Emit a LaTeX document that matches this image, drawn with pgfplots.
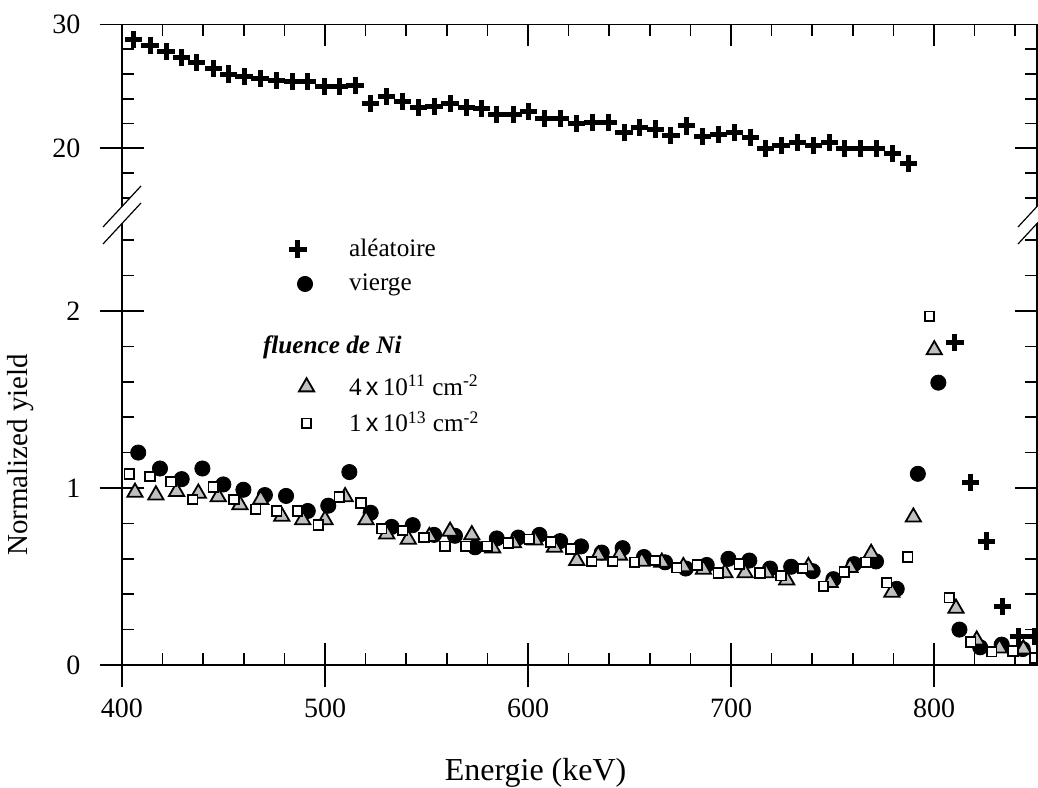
\documentclass[border=0pt]{standalone}
\usepackage{pgfplots}
\pgfplotsset{compat=1.18}
\usepackage{pgfplotstable}
\usepackage{fontspec}
\setmainfont{Liberation Serif}
\setsansfont{Liberation Sans}

% random (aleatoire) spectrum, upper panel
\pgfplotstableread{
E Y
405.6 28.8
413.8 28.3
421.7 27.8
429.4 27.35
436.8 26.9
445.0 26.45
452.4 26.0
460.1 25.8
468.0 25.65
476.2 25.5
483.9 25.4
491.5 25.4
499.5 25.0
507.0 25.0
514.8 25.1
522.5 23.6
530.4 24.2
538.3 23.8
546.0 23.3
553.7 23.4
561.6 23.6
569.5 23.3
577.2 23.2
584.6 22.7
592.8 22.7
600.2 22.95
607.9 22.4
615.8 22.4
624.0 22.0
631.6 22.1
639.6 22.1
647.3 21.3
654.8 21.65
662.6 21.55
670.4 21.0
678.2 21.8
685.9 20.95
693.8 21.1
701.5 21.3
709.4 20.9
717.1 19.95
724.6 20.2
732.7 20.45
740.6 20.25
748.3 20.45
755.8 20.0
763.9 20.0
771.8 19.95
779.5 19.55
787.4 18.75
}\aleahigh

% random spectrum, tail in lower panel
\pgfplotstableread{
E Y
810.3 1.82
818.0 1.03
826.0 0.70
833.6 0.33
841.5 0.16
849.3 0.16
}\alealow

% virgin
\pgfplotstableread{
E Y
408.0 1.20
418.7 1.11
429.4 1.05
439.6 1.11
449.9 1.02
459.8 0.99
470.4 0.96
480.8 0.955
491.5 0.87
501.6 0.90
512.0 1.09
522.5 0.86
532.8 0.78
543.2 0.79
553.7 0.735
564.0 0.73
573.9 0.665
584.6 0.715
595.2 0.72
605.6 0.735
615.8 0.70
626.1 0.67
636.3 0.635
646.6 0.66
657.1 0.61
667.5 0.58
677.7 0.545
688.0 0.565
698.7 0.60
709.0 0.59
719.2 0.545
729.6 0.555
740.2 0.53
750.4 0.485
760.6 0.57
771.4 0.585
781.6 0.43
792.0 1.08
802.1 1.595
812.5 0.20
822.7 0.10
833.3 0.115
843.7 0.09
}\vierge

% 4e11 cm-2
\pgfplotstableread{
E Y
406.4 0.975
416.7 0.96
426.9 0.98
437.6 0.97
447.4 0.95
458.1 0.905
468.3 0.935
478.7 0.84
489.0 0.82
500.0 0.82
509.9 0.95
520.2 0.82
530.4 0.74
541.0 0.71
551.4 0.725
561.6 0.755
572.3 0.735
582.6 0.66
592.8 0.69
603.4 0.705
613.0 0.665
624.0 0.59
634.6 0.62
645.0 0.62
656.0 0.585
665.9 0.58
676.5 0.555
686.4 0.54
697.0 0.52
706.9 0.52
717.2 0.52
727.4 0.48
738.1 0.555
748.8 0.465
758.6 0.55
769.0 0.63
779.2 0.41
789.8 0.835
800.1 1.78
810.8 0.32
821.0 0.14
832.2 0.095
844.0 0.09
}\flA

% 1e13 cm-2
\pgfplotstableread{
E Y
403.6 1.08
413.8 1.065
424.1 1.035
434.8 0.935
445.0 1.005
455.2 0.935
465.9 0.88
476.2 0.87
486.4 0.87
496.7 0.79
507.0 0.95
517.7 0.915
527.9 0.77
538.3 0.76
548.8 0.72
559.1 0.67
569.5 0.67
579.7 0.67
590.3 0.69
600.6 0.71
611.2 0.695
621.2 0.655
631.4 0.585
641.7 0.585
652.4 0.58
662.6 0.59
673.2 0.55
683.4 0.565
693.7 0.52
704.1 0.57
714.3 0.52
724.6 0.505
735.3 0.545
745.5 0.445
755.8 0.525
766.3 0.58
776.7 0.465
787.0 0.61
797.7 1.97
807.5 0.38
818.0 0.13
828.4 0.075
838.8 0.08
849.7 0.04
}\flB

\begin{document}
\begin{tikzpicture}
\path[use as bounding box] (-61pt,-61pt) rectangle (458pt,332.5pt);
\pgfplotsset{
  panel/.style={scale only axis, width=457.5pt, xmin=400, xmax=850.7,
    axis line style={draw=none},
    every tick/.append style={line width=0.8pt, black},
    tick label style={font=\fontsize{14}{16}\selectfont},
    xticklabel style={yshift=-2.5pt}, yticklabel style={xshift=-6.25pt},
    /pgf/number format/assume math mode=true},
  intick/.style={tick align=inside, major tick length=11pt, minor tick length=6pt,
    xticklabels={}, yticklabels={}},
  outtick/.style={tick align=outside, major tick length=11pt,
    xtick pos=left, ytick pos=left},
  plus/.style={only marks, mark=+, mark size=4.3pt, mark options={line width=2.5pt, black}},
  dot/.style={only marks, mark=*, mark size=3.8pt, mark options={black, fill=black}},
  tri/.style={only marks, mark=triangle*, mark size=4.4pt, mark options={line width=0.9pt, draw=black, fill=black!25}},
  sq/.style={only marks, mark=square*, mark size=2.4pt, mark options={line width=0.9pt, draw=black, fill=white}},
  % one legend entry per hidden axis, so that every row can be placed freely
  legax/.style n args={3}{panel, hide axis, at={(0pt,0pt)}, anchor=south west,
    height=225pt, ymin=0, ymax=2.542,
    legend image code/.code={\path[draw=none, fill=none] (-6pt,-6pt) rectangle (6pt,6pt);
      \draw[##1] plot coordinates {(0pt,0pt)};},
    legend style={draw=none, fill=none, inner sep=0pt, outer sep=0pt,
      font=\fontsize{12.6}{15}\selectfont, column sep=#3,
      nodes={inner sep=0pt, anchor=west},
      at={(axis description cs:#1,#2)}, anchor=west}},
}

% upper panel
\begin{axis}[panel, intick, at={(0pt,225pt)}, anchor=south west, height=95.25pt,
  ymin=14.61, ymax=30, xtick={400,500,...,800}, minor xtick={420,440,...,840},
  xtick pos=right, ytick={20,30}, minor ytick={16,18,22,24,26,28}, ytick pos=both]
\addplot[plus] table {\aleahigh};
\end{axis}
\begin{axis}[panel, outtick, at={(0pt,225pt)}, anchor=south west, height=95.25pt,
  ymin=14.61, ymax=30, xtick=\empty, ytick={20,30}]
\end{axis}

% lower panel
\begin{axis}[panel, intick, at={(0pt,0pt)}, anchor=south west, height=225pt,
  ymin=0, ymax=2.542, xtick={400,500,...,800}, minor xtick={420,440,...,840},
  xtick pos=left, ytick={0,1,2}, minor ytick={0.2,0.4,...,2.41}, ytick pos=both]
\addplot[plus] table {\alealow};
\addplot[dot] table {\vierge};
\addplot[tri] table {\flA};
\addplot[sq] table {\flB};
\node[anchor=west, inner sep=0pt, font=\fontsize{12.6}{15}\selectfont\bfseries\itshape]
  at (axis description cs:0.1537,0.7067) {fluence de Ni};
\end{axis}
\begin{axis}[panel, outtick, at={(0pt,0pt)}, anchor=south west, height=225pt,
  ymin=0, ymax=2.542, xtick={400,500,...,800}, ytick={0,1,2},
  xlabel={Energie (keV)}, ylabel={Normalized yield},
  every axis x label/.style={at={(axis description cs:0.452,0)}, anchor=center,
    yshift=-54pt, font=\fontsize{16}{19}\selectfont},
  every axis y label/.style={at={(axis description cs:-0.1104,0.467)}, anchor=center,
    rotate=90, font=\fontsize{14.5}{18}\selectfont}]
\end{axis}

% legend
\begin{axis}[legax={0.1792}{0.9244}{19.6pt}]
\addlegendimage{plus}
\addlegendentry{aléatoire}
\end{axis}
\begin{axis}[legax={0.1869}{0.8467}{16.1pt}]
\addlegendimage{dot}
\addlegendentry{vierge}
\end{axis}
\begin{axis}[legax={0.1886}{0.6178}{15.3pt}]
\addlegendimage{tri}
\addlegendentry{4\,\textsf{x}\,10\textsuperscript{11} cm\textsuperscript{-2}}
\end{axis}
\begin{axis}[legax={0.1886}{0.5373}{15.3pt}]
\addlegendimage{sq}
\addlegendentry{1\,\textsf{x}\,10\textsuperscript{13} cm\textsuperscript{-2}}
\end{axis}

% frame and axis breaks
\draw[line width=0.8pt] (0pt,0pt) rectangle (457.5pt,320.25pt);
\foreach \xx in {0pt,457.5pt}{
  \fill[white] ([xshift=-9.5pt,yshift=-14.5pt]\xx,225pt) -- ([xshift=9.5pt,yshift=6pt]\xx,225pt)
     -- ([xshift=9.5pt,yshift=14.5pt]\xx,225pt) -- ([xshift=-9.5pt,yshift=-6pt]\xx,225pt) -- cycle;
  \draw[line width=0.6pt] ([xshift=-9.5pt,yshift=-6pt]\xx,225pt) -- ([xshift=9.5pt,yshift=14.5pt]\xx,225pt);
  \draw[line width=0.6pt] ([xshift=-9.5pt,yshift=-14.5pt]\xx,225pt) -- ([xshift=9.5pt,yshift=6pt]\xx,225pt);
}
\end{tikzpicture}
\end{document}
